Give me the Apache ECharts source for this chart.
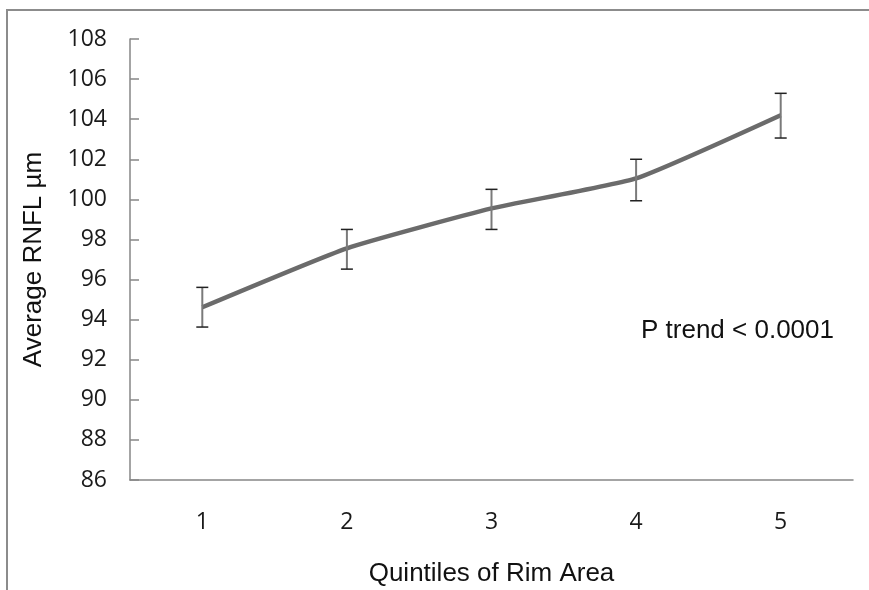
<!DOCTYPE html>
<html>
<head>
<meta charset="utf-8">
<script src="https://cdn.jsdelivr.net/npm/echarts@6/dist/echarts.min.js"></script>
<style>html,body{margin:0;padding:0;background:#fff;}#c{width:869px;height:590px;}</style>
</head>
<body>
<div id="c"></div>
<script>
const categories = ['1', '2', '3', '4', '5'];
const means = [94.62, 97.56, 99.55, 101.05, 104.2];
const upper = [95.61, 98.5, 100.5, 102.0, 105.29];
const lower = [93.63, 96.52, 98.5, 99.93, 103.06];
const yTicks = { min: 86, max: 108, interval: 2 };
const xTitle = 'Quintiles of Rim Area';
const yTitle = 'Average RNFL µm';
const note = 'P trend < 0.0001';

const errData = categories.map((c, i) => [i, lower[i], upper[i]]);

const chart = echarts.init(document.getElementById('c'), null, { renderer: 'canvas' });
chart.setOption({
  backgroundColor: '#fff',
  animation: false,
  grid: { left: 130, right: 16, top: 39, bottom: 110, containLabel: false, outerBoundsMode: 'none' },
  xAxis: {
    type: 'category',
    data: categories,
    boundaryGap: true,
    axisLine: { lineStyle: { color: '#868686', width: 1.5 } },
    axisTick: { inside: true, length: 9, alignWithLabel: false, lineStyle: { color: '#868686', width: 1.5 } },
    axisLabel: { margin: 31, fontFamily: 'Open Sans', fontSize: 23, color: '#1a1a1a' },
    splitLine: { show: false },
    name: xTitle,
    nameLocation: 'middle',
    nameGap: 81,
    nameTextStyle: { fontFamily: 'Liberation Sans', fontSize: 26, color: '#111' }
  },
  yAxis: {
    type: 'value',
    min: yTicks.min,
    max: yTicks.max,
    interval: yTicks.interval,
    axisLine: { show: true, lineStyle: { color: '#868686', width: 1.5 } },
    axisTick: { show: true, inside: true, length: 9, lineStyle: { color: '#868686', width: 1.5 } },
    axisLabel: { margin: 23, fontFamily: 'Open Sans', fontSize: 23, color: '#1a1a1a' },
    splitLine: { show: false },
    name: yTitle,
    nameLocation: 'middle',
    nameGap: 83,
    nameRotate: 90,
    nameTextStyle: { fontFamily: 'Liberation Sans', fontSize: 26, color: '#111' }
  },
  series: [
    {
      type: 'line',
      data: means,
      smooth: 0.15,
      symbol: 'none',
      lineStyle: { color: '#6b6b6b', width: 4.5 },
      z: 2
    },
    {
      type: 'custom',
      data: errData,
      z: 3,
      renderItem: function (params, api) {
        const x = api.coord([api.value(0), api.value(1)])[0];
        const yLo = api.coord([api.value(0), api.value(1)])[1];
        const yHi = api.coord([api.value(0), api.value(2)])[1];
        const hw = 6;
        return {
          type: 'group',
          children: [
            { type: 'line', shape: { x1: x, y1: yHi, x2: x, y2: yLo }, style: { stroke: '#7a7a7a', lineWidth: 2 } },
            { type: 'line', shape: { x1: x - hw, y1: yHi, x2: x + hw, y2: yHi }, style: { stroke: '#222', lineWidth: 1.5 } },
            { type: 'line', shape: { x1: x - hw, y1: yLo, x2: x + hw, y2: yLo }, style: { stroke: '#222', lineWidth: 1.5 } }
          ]
        };
      }
    }
  ],
  graphic: [
    {
      type: 'rect',
      shape: { x: 7, y: 10, width: 1000, height: 1000 },
      style: { fill: 'none', stroke: '#8c8c8c', lineWidth: 2 },
      silent: true
    },
    {
      type: 'text',
      x: 641,
      y: 331,
      style: {
        text: note,
        font: '26px "Liberation Sans"',
        fill: '#111',
        textAlign: 'left',
        textVerticalAlign: 'middle',
        verticalAlign: 'middle'
      }
    }
  ]
});
</script>
</body>
</html>
